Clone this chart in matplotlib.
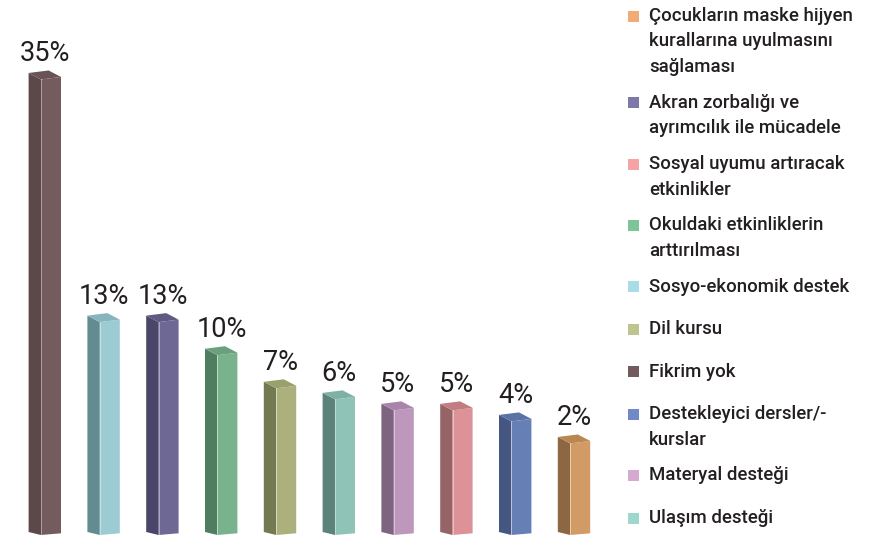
import numpy as np
import matplotlib.pyplot as plt

# data (bars left to right)
categories = ["Fikrim yok", "Sosyo-ekonomik destek", "Akran zorbalığı ve ayrımcılık ile mücadele",
              "Okuldaki etkinliklerin arttırılması", "Dil kursu", "Ulaşım desteği",
              "Materyal desteği", "Sosyal uyumu artıracak etkinlikler",
              "Destekleyici dersler/-kurslar", "Çocukların maske hijyen kurallarına uyulmasını sağlaması"]
values = [35, 13, 13, 10, 7, 6, 5, 5, 4, 2]
front_colors = ["#735b5e", "#9ccbd3", "#6d6994", "#78b38d", "#abb07c", "#90c3b8",
                "#bd97bc", "#dc9296", "#6680b6", "#d29b65"]
side_colors = ["#5c4749", "#628c90", "#4a4669", "#4f7d5f", "#737a52", "#5c8379",
               "#7e6481", "#966366", "#445681", "#8c6741"]
top_colors = ["#6a5356", "#86b5bb", "#5e5a84", "#6aa07e", "#9aa06c", "#7eb1a6",
              "#a984a9", "#c17d81", "#5a72a6", "#ba8751"]

# legend (top to bottom), lines as printed
legend_lines = [
    ["Çocukların maske hijyen", "kurallarına uyulmasını", "sağlaması"],
    ["Akran zorbalığı ve", "ayrımcılık ile mücadele"],
    ["Sosyal uyumu artıracak", "etkinlikler"],
    ["Okuldaki etkinliklerin", "arttırılması"],
    ["Sosyo-ekonomik destek"],
    ["Dil kursu"],
    ["Fikrim yok"],
    ["Destekleyici dersler/-", "kurslar"],
    ["Materyal desteği"],
    ["Ulaşım desteği"],
]
legend_colors = ["#f0ac74", "#7d78a8", "#f5a4a6", "#7dc597", "#a9dce6",
                 "#bfc48e", "#735a5c", "#7189c6", "#d5aad1", "#9ed8cc"]

W, H = 875, 542
FONT = ["Roboto", "DejaVu Sans"]
TXT = "#231f20"

# pixel scale of the bar area
px_x = 58.8      # px per category
px_y = 11.03     # px per percent
floor = -6.3     # floor of the 3D bars (value units)
x0_px, base_px = 51, 535

fig = plt.figure(figsize=(W / 100, H / 100), dpi=100)
ax_w = 620
ax = fig.add_axes([0, 0, ax_w / W, 1])
ax.set_xlim(-x0_px / px_x, (ax_w - x0_px) / px_x)
ax.set_ylim(floor - (H - base_px) / px_y, floor + base_px / px_y)
ax.axis("off")

hw = 10 / px_x          # half width of front face
ddx = -12.4 / px_x      # depth, going back to the left
ddt = 6.5 / px_y        # depth rise at the top
ddb = 3.0 / px_y        # depth rise at the bottom
ft = 2.5 / px_y         # front top slope
fb = 1.7 / px_y         # front bottom slope

for i, v in enumerate(values):
    xl, xr = i - hw, i + hw
    side = [(xl + ddx, floor + ddb), (xl, floor), (xl, v), (xl + ddx, v + ddt)]
    front = [(xl, floor), (xr, floor + fb), (xr, v + ft), (xl, v)]
    top = [(xl, v), (xr, v + ft), (xr + ddx, v + ft + ddt), (xl + ddx, v + ddt)]
    ax.fill(*zip(*side), color=side_colors[i], lw=0)
    ax.fill(*zip(*front), color=front_colors[i], lw=0)
    ax.fill(*zip(*top), color=top_colors[i], lw=0)
    ax.plot([xl, xl], [floor, v], color="white", lw=0.6, alpha=0.5)
    ax.text(i - 6 / px_x, v + ddt + 12 / px_y, f"{v}%", ha="center", va="baseline",
            fontsize=19.5, color=TXT, family=FONT)

# legend drawn at the right; single-line entries get a bit more room
line_h = 25.5
y = 16.0
sq = 11
for lines, c in zip(legend_lines, legend_colors):
    fig.patches.append(plt.Rectangle((628 / W, 1 - (y + sq / 2) / H), sq / W, sq / H,
                                     transform=fig.transFigure, color=c, lw=0))
    for j, t in enumerate(lines):
        fig.text(649 / W, 1 - (y + j * line_h) / H, t, ha="left", va="center",
                 fontsize=13.4, fontweight="medium", color=TXT, family=FONT)
    gap = 17 if len(lines) == 1 else 10.3
    y += len(lines) * line_h + gap

fig.savefig("out.png", dpi=100)
